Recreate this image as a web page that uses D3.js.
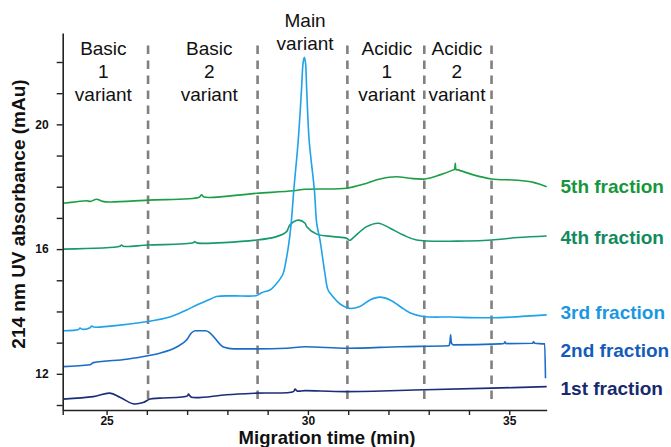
<!DOCTYPE html>
<html lang="en">
<head>
<meta charset="UTF-8">
<title>CZE fractions</title>
<script src="https://cdn.jsdelivr.net/npm/d3@7"></script>
<style>
body { margin: 0; background: #fff; }
svg text { font-family: Arial, "Liberation Sans", sans-serif; }
</style>
</head>
<body>
<div id="chart"></div>
<script>
// electropherogram of the five collected fractions (time in min, absorbance in mAu)
var fractions = ["1st fraction", "2nd fraction", "3rd fraction", "4th fraction", "5th fraction"];
var lineColors = ["#1b2d78", "#1a6cc6", "#1ea2ea", "#169a6c", "#1c9e45"];
var labelColors = ["#172a6e", "#155cb8", "#1b97e2", "#128a5e", "#17963c"];
var labelAt = [11.55, 12.76, 13.98, 16.39, 18.02];

var t1 = [23.92, 24.67, 25.08, 25.33, 25.66, 25.91, 26.08, 26.32, 27.01, 27.03, 27.11, 27.98, 28.73, 29.64, 29.68, 29.73, 29.93, 30.96, 32.91, 34.56, 35.93];
var a1 = [11.19, 11.27, 11.38, 11.25, 11.04, 11.08, 11.19, 11.22, 11.29, 11.35, 11.25, 11.33, 11.38, 11.43, 11.51, 11.45, 11.46, 11.43, 11.49, 11.54, 11.59];

var t2 = [23.92, 24.59, 24.67, 25.50, 26.03, 26.32, 26.74, 26.99, 27.10, 27.20, 27.45, 27.55, 27.65, 27.90, 28.15, 28.73, 29.47, 29.93, 30.96, 32.29, 33.50, 33.53, 33.545, 33.56, 33.61, 34.77, 34.87, 34.89, 34.92, 35.58, 35.60, 35.63, 35.88, 35.90];
var a2 = [12.23, 12.29, 12.36, 12.47, 12.58, 12.66, 12.86, 13.09, 13.30, 13.38, 13.38, 13.33, 13.20, 12.86, 12.80, 12.80, 12.82, 12.87, 12.82, 12.87, 12.90, 13.05, 13.25, 13.00, 12.93, 12.96, 12.97, 13.03, 12.97, 12.98, 13.03, 12.98, 12.96, 11.86];

var t3 = [23.92, 24.30, 24.34, 24.40, 24.59, 24.63, 24.68, 26.03, 26.57, 26.99, 27.24, 27.57, 27.73, 28.15, 28.73, 28.85, 29.06, 29.18, 29.38, 29.45, 29.52, 29.58, 29.65, 29.76, 29.84, 29.88, 29.91, 29.94, 29.97, 30.03, 30.16, 30.22, 30.30, 30.42, 30.50, 30.63, 30.80, 31.04, 31.29, 31.54, 31.79, 32.04, 32.29, 32.53, 32.86, 33.53, 34.60, 35.93];
var a3 = [13.38, 13.42, 13.47, 13.43, 13.48, 13.53, 13.50, 13.68, 13.82, 14.05, 14.21, 14.39, 14.48, 14.50, 14.51, 14.60, 14.69, 14.83, 15.20, 15.59, 16.13, 16.77, 17.90, 19.50, 21.10, 21.97, 22.15, 21.97, 21.10, 19.50, 17.90, 16.81, 16.29, 15.24, 14.69, 14.46, 14.24, 14.10, 14.16, 14.37, 14.46, 14.37, 14.16, 13.96, 13.84, 13.82, 13.80, 13.89];

var t4 = [23.92, 25.33, 25.37, 25.42, 26.03, 27.15, 27.19, 27.24, 28.73, 29.22, 29.47, 29.55, 29.76, 29.93, 29.97, 30.22, 30.63, 30.96, 31.04, 31.13, 31.46, 31.75, 32.04, 32.37, 32.70, 33.94, 34.56, 35.22, 35.93];
var a4 = [16.00, 16.09, 16.13, 16.09, 16.13, 16.20, 16.24, 16.20, 16.29, 16.40, 16.56, 16.77, 16.93, 16.83, 16.72, 16.48, 16.40, 16.35, 16.28, 16.37, 16.72, 16.83, 16.67, 16.45, 16.29, 16.26, 16.29, 16.37, 16.42];

var t5 = [23.92, 24.26, 24.50, 24.60, 24.75, 24.90, 25.08, 26.03, 27.30, 27.36, 27.42, 28.73, 29.64, 29.93, 30.96, 31.37, 31.79, 32.20, 32.53, 32.91, 33.28, 33.61, 33.64, 33.66, 33.68, 33.73, 34.11, 34.56, 35.18, 35.60, 35.93];
var a5 = [17.47, 17.52, 17.55, 17.53, 17.60, 17.53, 17.51, 17.57, 17.66, 17.74, 17.67, 17.79, 17.87, 17.92, 17.95, 18.08, 18.25, 18.32, 18.27, 18.25, 18.38, 18.54, 18.56, 18.75, 18.55, 18.54, 18.38, 18.25, 18.21, 18.14, 18.00];

// charge variant windows
var boundaries = [26.03, 28.75, 30.98, 32.89, 34.56];
var regionNames = [["Basic", "1", "variant"], ["Basic", "2", "variant"], ["Main", "variant"], ["Acidic", "1", "variant"], ["Acidic", "2", "variant"]];
var regionCenters = [24.92, 27.55, 29.93, 31.96, 33.70];

var times = [t1, t2, t3, t4, t5];
var values = [a1, a2, a3, a4, a5];

var width = 671, height = 447;

var x = d3.scaleLinear().domain([23.91, 35.93]).range([62.7, 546.7]);
var y = d3.scaleLinear().domain([10.84, 22.93]).range([410, 33]);

var svg = d3.select("#chart").append("svg")
    .attr("width", width)
    .attr("height", height);

// dashed window borders
svg.append("g").selectAll("line")
    .data(boundaries)
    .enter().append("line")
    .attr("x1", function(d) { return x(d); })
    .attr("x2", function(d) { return x(d); })
    .attr("y1", y(22.53))
    .attr("y2", y(11.1))
    .attr("stroke", "#808080")
    .attr("stroke-width", 2.6)
    .attr("stroke-dasharray", "8.5,6.5");

// window labels
var reg = svg.append("g").selectAll("text")
    .data(regionNames)
    .enter().append("text")
    .attr("text-anchor", "middle")
    .attr("font-size", "19px")
    .attr("fill", "#111")
    .attr("x", function(d, i) { return x(regionCenters[i]); })
    .attr("y", function(d) { return d.length == 2 ? 27.3 : 55; });

reg.selectAll("tspan")
    .data(function(d) { return d; })
    .enter().append("tspan")
    .attr("x", function() { return this.parentNode.getAttribute("x"); })
    .attr("dy", function(d, i) { return i == 0 ? 0 : 23; })
    .text(function(d) { return d; });

// traces (2nd fraction has a hard drop at the end, keep it monotone)
function lineFor(i) {
    return d3.line()
        .curve(i == 1 ? d3.curveMonotoneX : d3.curveCatmullRom.alpha(0.5))
        .x(function(d) { return x(d[0]); })
        .y(function(d) { return y(d[1]); });
}

svg.append("g").selectAll("path")
    .data(d3.range(5).reverse())
    .enter().append("path")
    .attr("fill", "none")
    .attr("stroke", function(i) { return lineColors[i]; })
    .attr("stroke-width", 1.6)
    .attr("d", function(i) { return lineFor(i)(d3.zip(times[i], values[i])); });

// fraction labels
svg.append("g").selectAll("text")
    .data(fractions)
    .enter().append("text")
    .attr("x", 560.5)
    .attr("y", function(d, i) { return y(labelAt[i]); })
    .attr("dy", "0.36em")
    .attr("font-size", "19px")
    .attr("font-weight", "bold")
    .attr("fill", function(d, i) { return labelColors[i]; })
    .text(function(d) { return d; });

// axes
var xAxis = d3.axisBottom(x)
    .tickValues([x.domain()[0]].concat(d3.range(25, 36)))
    .tickSize(5)
    .tickSizeOuter(0)
    .tickPadding(1.5)
    .tickFormat(function(d) { return d % 5 == 0 ? d : ""; });

var yAxis = d3.axisLeft(y)
    .tickValues(d3.range(11, 23))
    .tickSize(6)
    .tickSizeOuter(0)
    .tickPadding(8)
    .tickFormat(function(d) { return d % 4 == 0 ? d : ""; });

var gx = svg.append("g").attr("transform", "translate(0,410)").call(xAxis);
var gy = svg.append("g").attr("transform", "translate(62.7,0)").call(yAxis);

[gx, gy].forEach(function(g) {
    g.select(".domain").attr("stroke", "#222").attr("stroke-width", 1.6);
    g.selectAll(".tick line").attr("stroke", "#222").attr("stroke-width", 1.4);
    g.selectAll(".tick text")
        .attr("font-family", "Arial, 'Liberation Sans', sans-serif")
        .attr("font-size", "12px")
        .attr("font-weight", "bold")
        .attr("fill", "#111");
});

svg.append("text")
    .attr("x", 327)
    .attr("y", 444)
    .attr("text-anchor", "middle")
    .attr("font-size", "18.5px")
    .attr("font-weight", "bold")
    .attr("fill", "#111")
    .text("Migration time (min)");

svg.append("text")
    .attr("transform", "translate(25,214) rotate(-90)")
    .attr("text-anchor", "middle")
    .attr("font-size", "19px")
    .attr("font-weight", "bold")
    .attr("fill", "#111")
    .text("214 nm UV absorbance (mAu)");
</script>
</body>
</html>
